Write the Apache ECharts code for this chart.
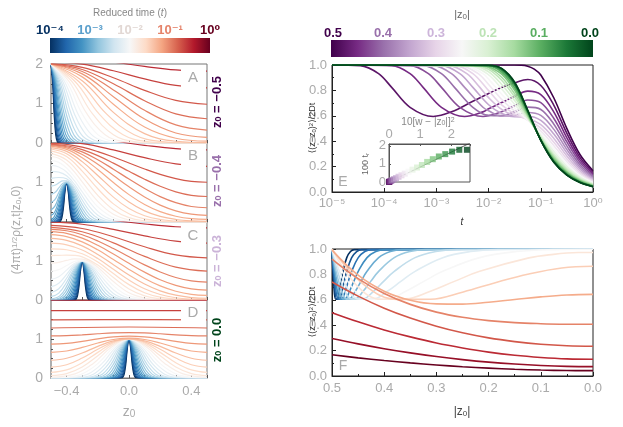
<!DOCTYPE html>
<html>
<head>
<meta charset="utf-8">
<title>Diffusion between two walls</title>
<script src="https://cdn.jsdelivr.net/npm/echarts@6/dist/echarts.min.js"></script>
<style>
html, body { margin: 0; padding: 0; background: #fff; }
#main { width: 623px; height: 427px; }
</style>
</head>
<body>
<div id="main"></div>
<script>
// reduced times of the curves in panels A-D (same order as the curves)
var panelTimes = [1e-4, 1.334e-4, 1.778e-4, 2.371e-4, 3.162e-4, 4.217e-4, 5.623e-4, 7.499e-4,
  1e-3, 1.334e-3, 1.778e-3, 2.371e-3, 3.162e-3, 4.217e-3, 5.623e-3, 7.499e-3,
  0.01, 0.01334, 0.01778, 0.02371, 0.03162, 0.04217, 0.05623, 0.07499, 0.1, 0.1334, 0.1778, 0.2371, 0.3162];
// reduced times of the curves in panel F
var reducedTimes = [1e-4, 1.778e-4, 3.162e-4, 5.623e-4, 1e-3, 1.778e-3, 3.162e-3, 5.623e-3,
  0.01, 0.01778, 0.03162, 0.05623, 0.1, 0.1778, 0.3162, 0.5623, 1];

// panel A, z0 = -0.5 : [z, (4 pi t)^1/2 rho]
var curvesA = [
  [[-0.5,2],[-0.49,1.558],[-0.48,0.736],[-0.47,0.211],[-0.46,0.037],[-0.45,0.004],[0.5,0]],
  [[-0.5,2],[-0.4884,1.558],[-0.4769,0.736],[-0.4653,0.211],[-0.4538,0.037],[-0.4422,0.004],[0.5,0]],
  [[-0.5,2],[-0.4867,1.558],[-0.4733,0.736],[-0.46,0.211],[-0.4467,0.037],[-0.4333,0.004],[0.5,0]],
  [[-0.5,2],[-0.4846,1.558],[-0.4692,0.736],[-0.4538,0.211],[-0.4384,0.037],[-0.423,0.004],[0.5,0]],
  [[-0.5,2],[-0.4822,1.558],[-0.4644,0.736],[-0.4466,0.211],[-0.4288,0.037],[-0.411,0.004],[0.5,0]],
  [[-0.5,2],[-0.4794,1.558],[-0.4589,0.736],[-0.4383,0.211],[-0.4178,0.037],[-0.3972,0.004],[0.5,0]],
  [[-0.5,2],[-0.4763,1.558],[-0.4526,0.736],[-0.4289,0.211],[-0.4052,0.037],[-0.3815,0.004],[0.5,0]],
  [[-0.5,2],[-0.4726,1.558],[-0.4452,0.736],[-0.4178,0.211],[-0.3904,0.037],[-0.363,0.004],[0.5,0]],
  [[-0.5,2],[-0.4684,1.558],[-0.4368,0.736],[-0.4052,0.211],[-0.3736,0.037],[-0.342,0.004],[0.5,0]],
  [[-0.5,2],[-0.4635,1.558],[-0.427,0.736],[-0.3905,0.211],[-0.354,0.037],[-0.3175,0.004],[0.5,0]],
  [[-0.5,2],[-0.4578,1.558],[-0.4157,0.736],[-0.3735,0.211],[-0.3314,0.037],[-0.2892,0.004],[0.5,0]],
  [[-0.5,2],[-0.4513,1.558],[-0.4026,0.736],[-0.3539,0.211],[-0.3052,0.037],[-0.2565,0.004],[0.5,0]],
  [[-0.5,2],[-0.4438,1.558],[-0.3875,0.736],[-0.3313,0.211],[-0.275,0.037],[-0.2188,0.004],[0.5,0]],
  [[-0.5,2],[-0.435,1.558],[-0.3701,0.736],[-0.3051,0.211],[-0.2402,0.037],[-0.1752,0.004],[0.5,0]],
  [[-0.5,2],[-0.425,1.558],[-0.35,0.736],[-0.275,0.211],[-0.2,0.037],[-0.125,0.004],[0.5,0]],
  [[-0.5,2],[-0.4134,1.558],[-0.3268,0.736],[-0.2402,0.211],[-0.1536,0.037],[-0.067,0.004],[0.5,0]],
  [[-0.5,2],[-0.4,1.558],[-0.3,0.736],[-0.2,0.211],[-0.1,0.037],[0,0.004],[0.5,0]],
  [[-0.5,2],[-0.3845,1.558],[-0.269,0.736],[-0.1535,0.211],[-0.038,0.037],[0.0775,0.004],[0.5,0]],
  [[-0.5,2],[-0.3667,1.558],[-0.2333,0.736],[-0.1,0.211],[0.0333,0.037],[0.1667,0.004],[0.5,0]],
  [[-0.5,2],[-0.346,1.558],[-0.192,0.736],[-0.038,0.211],[0.116,0.037],[0.27,0.004],[0.5,0]],
  [[-0.5,2],[-0.3222,1.558],[-0.1443,0.736],[0.0335,0.211],[0.2114,0.037],[0.389,0.004],[0.5,0.002]],
  [[-0.5,2],[-0.3,1.578],[-0.1,0.775],[0.1,0.237],[0.3,0.045],[0.5,0.011]],
  [[-0.5,2],[-0.3,1.674],[-0.1,0.982],[0.1,0.404],[0.3,0.12],[0.5,0.047]],
  [[-0.5,2],[-0.3,1.75],[-0.1,1.173],[0.1,0.605],[0.3,0.253],[0.5,0.143]],
  [[-0.5,2],[-0.3,1.81],[-0.1,1.344],[0.1,0.828],[0.3,0.458],[0.5,0.328]],
  [[-0.5,2.002],[-0.3,1.861],[-0.1,1.499],[0.1,1.07],[0.3,0.738],[0.5,0.614]],
  [[-0.5,2.015],[-0.3,1.914],[-0.1,1.653],[0.1,1.333],[0.3,1.078],[0.5,0.981]],
  [[-0.5,2.058],[-0.3,1.995],[-0.1,1.829],[0.1,1.623],[0.3,1.457],[0.5,1.394]],
  [[-0.5,2.169],[-0.3,2.136],[-0.1,2.048],[0.1,1.939],[0.3,1.851],[0.5,1.818]]
];

// panel B, z0 = -0.4
var curvesB = [
  [[-0.5,0],[-0.45,0.002],[-0.44,0.018],[-0.43,0.105],[-0.42,0.368],[-0.41,0.779],[-0.4,1],[-0.39,0.779],[-0.38,0.368],[-0.37,0.105],[-0.36,0.018],[-0.35,0.002],[0.5,0]],
  [[-0.5,0],[-0.4578,0.002],[-0.4462,0.018],[-0.4347,0.105],[-0.4231,0.368],[-0.4116,0.779],[-0.4,1],[-0.3884,0.779],[-0.3769,0.368],[-0.3653,0.105],[-0.3538,0.018],[-0.3422,0.002],[0.5,0]],
  [[-0.5,0],[-0.4667,0.002],[-0.4533,0.018],[-0.44,0.105],[-0.4267,0.368],[-0.4133,0.779],[-0.4,1],[-0.3867,0.779],[-0.3733,0.368],[-0.36,0.105],[-0.3467,0.018],[-0.3333,0.002],[0.5,0]],
  [[-0.5,0],[-0.477,0.002],[-0.4616,0.018],[-0.4462,0.105],[-0.4308,0.368],[-0.4154,0.779],[-0.4,1],[-0.3846,0.779],[-0.3692,0.368],[-0.3538,0.105],[-0.3384,0.018],[-0.323,0.002],[0.5,0]],
  [[-0.5,0.001],[-0.489,0.002],[-0.4712,0.018],[-0.4534,0.105],[-0.4356,0.368],[-0.4178,0.779],[-0.4,1],[-0.3822,0.779],[-0.3644,0.368],[-0.3466,0.105],[-0.3288,0.018],[-0.311,0.002],[0.5,0]],
  [[-0.5,0.005],[-0.4822,0.019],[-0.4617,0.106],[-0.4411,0.368],[-0.4206,0.779],[-0.4,1],[-0.3794,0.779],[-0.3589,0.368],[-0.3383,0.105],[-0.3178,0.018],[-0.2972,0.002],[0.5,0]],
  [[-0.5,0.023],[-0.4711,0.106],[-0.4474,0.368],[-0.4237,0.779],[-0.4,1],[-0.3763,0.779],[-0.3526,0.368],[-0.3289,0.105],[-0.3052,0.018],[-0.2815,0.002],[0.5,0]],
  [[-0.5,0.072],[-0.4822,0.115],[-0.4548,0.369],[-0.4274,0.779],[-0.4,1],[-0.3726,0.779],[-0.3452,0.368],[-0.3178,0.105],[-0.2904,0.018],[-0.263,0.002],[0.5,0]],
  [[-0.5,0.164],[-0.48,0.229],[-0.4632,0.377],[-0.4316,0.78],[-0.4,1],[-0.3684,0.779],[-0.3368,0.368],[-0.3052,0.105],[-0.2736,0.018],[-0.242,0.002],[0.5,0]],
  [[-0.5,0.306],[-0.475,0.401],[-0.45,0.64],[-0.425,0.893],[-0.4,1],[-0.3635,0.779],[-0.327,0.368],[-0.2905,0.105],[-0.254,0.018],[-0.2175,0.002],[0.5,0]],
  [[-0.5,0.49],[-0.475,0.564],[-0.45,0.746],[-0.425,0.929],[-0.4,1.004],[-0.3578,0.779],[-0.3157,0.368],[-0.2735,0.105],[-0.2314,0.018],[-0.1892,0.002],[0.5,0]],
  [[-0.5,0.697],[-0.475,0.745],[-0.45,0.862],[-0.425,0.976],[-0.4,1.015],[-0.375,0.941],[-0.35,0.769],[-0.3026,0.368],[-0.2539,0.105],[-0.2052,0.018],[-0.1565,0.002],[0.5,0]],
  [[-0.5,0.908],[-0.475,0.932],[-0.45,0.99],[-0.425,1.041],[-0.4,1.042],[-0.375,0.97],[-0.35,0.828],[-0.3,0.454],[-0.25,0.169],[-0.2,0.042],[-0.15,0.007],[-0.1,0.001],[0.5,0]],
  [[-0.5,1.106],[-0.45,1.126],[-0.4,1.093],[-0.35,0.887],[-0.3,0.558],[-0.25,0.264],[-0.2,0.093],[-0.15,0.025],[-0.1,0.005],[-0.05,0.001],[0.5,0]],
  [[-0.5,1.282],[-0.45,1.263],[-0.4,1.169],[-0.35,0.957],[-0.3,0.659],[-0.25,0.372],[-0.2,0.169],[-0.15,0.062],[-0.1,0.018],[-0.05,0.004],[0,0],[0.5,0]],
  [[-0.5,1.433],[-0.45,1.392],[-0.4,1.264],[-0.35,1.045],[-0.3,0.766],[-0.25,0.489],[-0.2,0.268],[-0.15,0.126],[-0.1,0.05],[-0.05,0.017],[0,0.005],[0.05,0.001],[0.5,0]],
  [[-0.5,1.558],[-0.45,1.509],[-0.4,1.368],[-0.35,1.149],[-0.3,0.884],[-0.25,0.617],[-0.2,0.386],[-0.1,0.107],[0,0.018],[0.1,0.002],[0.5,0]],
  [[-0.5,1.658],[-0.45,1.615],[-0.4,1.473],[-0.35,1.269],[-0.3,1.014],[-0.2,0.523],[-0.1,0.194],[0,0.051],[0.1,0.009],[0.2,0.001],[0.5,0]],
  [[-0.5,1.738],[-0.4,1.57],[-0.3,1.151],[-0.2,0.675],[-0.1,0.312],[0,0.111],[0.1,0.03],[0.2,0.006],[0.3,0.001],[0.5,0]],
  [[-0.5,1.8],[-0.4,1.656],[-0.3,1.288],[-0.2,0.841],[-0.1,0.459],[0,0.208],[0.1,0.078],[0.2,0.024],[0.3,0.006],[0.4,0.001],[0.5,0]],
  [[-0.5,1.848],[-0.4,1.729],[-0.3,1.415],[-0.2,1.011],[-0.1,0.63],[0,0.34],[0.1,0.159],[0.2,0.064],[0.3,0.022],[0.4,0.007],[0.5,0.003]],
  [[-0.5,1.885],[-0.4,1.789],[-0.3,1.529],[-0.2,1.177],[-0.1,0.814],[0,0.506],[0.1,0.282],[0.2,0.141],[0.3,0.064],[0.4,0.028],[0.5,0.018]],
  [[-0.5,1.913],[-0.4,1.837],[-0.3,1.627],[-0.2,1.328],[-0.1,0.999],[0,0.693],[0.1,0.443],[0.2,0.262],[0.3,0.146],[0.4,0.083],[0.5,0.064]],
  [[-0.5,1.934],[-0.4,1.875],[-0.3,1.708],[-0.2,1.462],[-0.1,1.176],[0,0.89],[0.1,0.634],[0.2,0.428],[0.3,0.283],[0.4,0.198],[0.5,0.17]],
  [[-0.5,1.951],[-0.4,1.905],[-0.3,1.775],[-0.2,1.577],[-0.1,1.338],[0,1.086],[0.1,0.847],[0.2,0.643],[0.3,0.489],[0.4,0.393],[0.5,0.361]],
  [[-0.5,1.966],[-0.4,1.931],[-0.3,1.832],[-0.2,1.68],[-0.1,1.49],[0,1.284],[0.1,1.082],[0.2,0.904],[0.3,0.764],[0.4,0.676],[0.5,0.646]],
  [[-0.5,1.989],[-0.4,1.964],[-0.3,1.894],[-0.2,1.783],[-0.1,1.645],[0,1.493],[0.1,1.341],[0.2,1.205],[0.3,1.098],[0.4,1.029],[0.5,1.006]],
  [[-0.5,2.042],[-0.3,1.982],[-0.1,1.824],[0.1,1.628],[0.3,1.47],[0.5,1.41]],
  [[-0.5,2.161],[-0.3,2.129],[-0.1,2.045],[0.1,1.942],[0.3,1.858],[0.5,1.826]]
];

// panel C, z0 = -0.3
var curvesC = [
  [[-0.5,0],[-0.35,0.002],[-0.34,0.018],[-0.33,0.105],[-0.32,0.368],[-0.31,0.779],[-0.3,1],[-0.29,0.779],[-0.28,0.368],[-0.27,0.105],[-0.26,0.018],[-0.25,0.002],[0.5,0]],
  [[-0.5,0],[-0.3578,0.002],[-0.3462,0.018],[-0.3347,0.105],[-0.3231,0.368],[-0.3116,0.779],[-0.3,1],[-0.2884,0.779],[-0.2769,0.368],[-0.2653,0.105],[-0.2538,0.018],[-0.2422,0.002],[0.5,0]],
  [[-0.5,0],[-0.3667,0.002],[-0.3533,0.018],[-0.34,0.105],[-0.3267,0.368],[-0.3133,0.779],[-0.3,1],[-0.2867,0.779],[-0.2733,0.368],[-0.26,0.105],[-0.2467,0.018],[-0.2333,0.002],[0.5,0]],
  [[-0.5,0],[-0.377,0.002],[-0.3616,0.018],[-0.3462,0.105],[-0.3308,0.368],[-0.3154,0.779],[-0.3,1],[-0.2846,0.779],[-0.2692,0.368],[-0.2538,0.105],[-0.2384,0.018],[-0.223,0.002],[0.5,0]],
  [[-0.5,0],[-0.389,0.002],[-0.3712,0.018],[-0.3534,0.105],[-0.3356,0.368],[-0.3178,0.779],[-0.3,1],[-0.2822,0.779],[-0.2644,0.368],[-0.2466,0.105],[-0.2288,0.018],[-0.211,0.002],[0.5,0]],
  [[-0.5,0],[-0.4028,0.002],[-0.3822,0.018],[-0.3617,0.105],[-0.3411,0.368],[-0.3206,0.779],[-0.3,1],[-0.2794,0.779],[-0.2589,0.368],[-0.2383,0.105],[-0.2178,0.018],[-0.1972,0.002],[0.5,0]],
  [[-0.5,0],[-0.4185,0.002],[-0.3948,0.018],[-0.3711,0.105],[-0.3474,0.368],[-0.3237,0.779],[-0.3,1],[-0.2763,0.779],[-0.2526,0.368],[-0.2289,0.105],[-0.2052,0.018],[-0.1815,0.002],[0.5,0]],
  [[-0.5,0],[-0.437,0.002],[-0.4096,0.018],[-0.3822,0.105],[-0.3548,0.368],[-0.3274,0.779],[-0.3,1],[-0.2726,0.779],[-0.2452,0.368],[-0.2178,0.105],[-0.1904,0.018],[-0.163,0.002],[0.5,0]],
  [[-0.5,0],[-0.458,0.002],[-0.4264,0.018],[-0.3948,0.105],[-0.3632,0.368],[-0.3316,0.779],[-0.3,1],[-0.2684,0.779],[-0.2368,0.368],[-0.2052,0.105],[-0.1736,0.018],[-0.142,0.002],[0.5,0]],
  [[-0.5,0.001],[-0.4825,0.002],[-0.446,0.018],[-0.4095,0.105],[-0.373,0.368],[-0.3365,0.779],[-0.3,1],[-0.2635,0.779],[-0.227,0.368],[-0.1905,0.105],[-0.154,0.018],[-0.1175,0.002],[0.5,0]],
  [[-0.5,0.007],[-0.4686,0.018],[-0.4265,0.105],[-0.3843,0.368],[-0.3422,0.779],[-0.3,1],[-0.2578,0.779],[-0.2157,0.368],[-0.1735,0.105],[-0.1314,0.018],[-0.0892,0.002],[0.5,0]],
  [[-0.5,0.03],[-0.4435,0.106],[-0.3974,0.368],[-0.3487,0.779],[-0.3,1],[-0.2513,0.779],[-0.2026,0.368],[-0.1539,0.105],[-0.1052,0.018],[-0.0565,0.002],[0.5,0]],
  [[-0.5,0.085],[-0.45,0.176],[-0.4,0.455],[-0.35,0.821],[-0.325,0.952],[-0.3,1],[-0.275,0.952],[-0.25,0.821],[-0.2,0.454],[-0.15,0.169],[-0.1,0.042],[-0.05,0.007],[0,0.001],[0.5,0]],
  [[-0.5,0.187],[-0.45,0.288],[-0.4,0.558],[-0.35,0.863],[-0.3,1],[-0.25,0.862],[-0.2,0.553],[-0.15,0.263],[-0.1,0.093],[-0.05,0.025],[0,0.005],[0.05,0.001],[0.5,0]],
  [[-0.5,0.338],[-0.45,0.43],[-0.4,0.659],[-0.35,0.899],[-0.3,1],[-0.25,0.895],[-0.2,0.641],[-0.15,0.368],[-0.1,0.169],[-0.05,0.062],[0,0.018],[0.05,0.004],[0.1,0],[0.5,0]],
  [[-0.5,0.527],[-0.45,0.597],[-0.4,0.766],[-0.35,0.937],[-0.3,1.005],[-0.25,0.921],[-0.2,0.717],[-0.15,0.472],[-0.1,0.264],[-0.05,0.125],[0,0.05],[0.05,0.017],[0.1,0.005],[0.15,0.001],[0.5,0]],
  [[-0.5,0.736],[-0.45,0.78],[-0.4,0.884],[-0.35,0.986],[-0.3,1.018],[-0.25,0.945],[-0.2,0.781],[-0.15,0.57],[-0.1,0.368],[-0.05,0.21],[0,0.105],[0.1,0.018],[0.2,0.002],[0.3,0],[0.5,0]],
  [[-0.5,0.945],[-0.45,0.966],[-0.4,1.014],[-0.35,1.055],[-0.3,1.05],[-0.25,0.977],[-0.2,0.838],[-0.1,0.474],[0,0.185],[0.1,0.05],[0.2,0.009],[0.3,0.001],[0.5,0]],
  [[-0.5,1.14],[-0.45,1.144],[-0.4,1.151],[-0.35,1.144],[-0.3,1.105],[-0.2,0.899],[-0.1,0.576],[0,0.283],[0.1,0.105],[0.2,0.03],[0.3,0.006],[0.4,0.001],[0.5,0]],
  [[-0.5,1.312],[-0.4,1.288],[-0.3,1.185],[-0.2,0.972],[-0.1,0.679],[0,0.394],[0.1,0.186],[0.2,0.072],[0.3,0.023],[0.4,0.006],[0.5,0.002]],
  [[-0.5,1.458],[-0.4,1.415],[-0.3,1.282],[-0.2,1.063],[-0.1,0.787],[0,0.512],[0.1,0.288],[0.2,0.141],[0.3,0.058],[0.4,0.023],[0.5,0.013]],
  [[-0.5,1.578],[-0.4,1.529],[-0.3,1.388],[-0.2,1.169],[-0.1,0.907],[0,0.642],[0.1,0.41],[0.2,0.235],[0.3,0.124],[0.4,0.063],[0.5,0.045]],
  [[-0.5,1.674],[-0.4,1.627],[-0.3,1.491],[-0.2,1.286],[-0.1,1.039],[0,0.784],[0.1,0.551],[0.2,0.361],[0.3,0.225],[0.4,0.146],[0.5,0.12]],
  [[-0.5,1.751],[-0.4,1.708],[-0.3,1.587],[-0.2,1.403],[-0.1,1.178],[0,0.94],[0.1,0.714],[0.2,0.52],[0.3,0.374],[0.4,0.284],[0.5,0.253]],
  [[-0.5,1.81],[-0.4,1.775],[-0.3,1.672],[-0.2,1.514],[-0.1,1.319],[0,1.108],[0.1,0.901],[0.2,0.719],[0.3,0.578],[0.4,0.489],[0.5,0.458]],
  [[-0.5,1.861],[-0.3,1.751],[-0.1,1.465],[0.1,1.118],[0.3,0.842],[0.5,0.738]],
  [[-0.5,1.914],[-0.3,1.834],[-0.1,1.623],[0.1,1.365],[0.3,1.157],[0.5,1.078]],
  [[-0.5,1.995],[-0.3,1.943],[-0.1,1.809],[0.1,1.643],[0.3,1.509],[0.5,1.457]],
  [[-0.5,2.136],[-0.3,2.109],[-0.1,2.037],[0.1,1.949],[0.3,1.878],[0.5,1.851]]
];

// panel D, z0 = 0
var curvesD = [
  [[-0.5,0],[-0.05,0.002],[-0.04,0.018],[-0.03,0.105],[-0.02,0.368],[-0.01,0.779],[0,1],[0.01,0.779],[0.02,0.368],[0.03,0.105],[0.04,0.018],[0.05,0.002],[0.5,0]],
  [[-0.5,0],[-0.0578,0.002],[-0.0462,0.018],[-0.0347,0.105],[-0.0231,0.368],[-0.0116,0.779],[0,1],[0.0116,0.779],[0.0231,0.368],[0.0347,0.105],[0.0462,0.018],[0.0578,0.002],[0.5,0]],
  [[-0.5,0],[-0.0667,0.002],[-0.0533,0.018],[-0.04,0.105],[-0.0267,0.368],[-0.0133,0.779],[0,1],[0.0133,0.779],[0.0267,0.368],[0.04,0.105],[0.0533,0.018],[0.0667,0.002],[0.5,0]],
  [[-0.5,0],[-0.077,0.002],[-0.0616,0.018],[-0.0462,0.105],[-0.0308,0.368],[-0.0154,0.779],[0,1],[0.0154,0.779],[0.0308,0.368],[0.0462,0.105],[0.0616,0.018],[0.077,0.002],[0.5,0]],
  [[-0.5,0],[-0.089,0.002],[-0.0712,0.018],[-0.0534,0.105],[-0.0356,0.368],[-0.0178,0.779],[0,1],[0.0178,0.779],[0.0356,0.368],[0.0534,0.105],[0.0712,0.018],[0.089,0.002],[0.5,0]],
  [[-0.5,0],[-0.1028,0.002],[-0.0822,0.018],[-0.0617,0.105],[-0.0411,0.368],[-0.0206,0.779],[0,1],[0.0206,0.779],[0.0411,0.368],[0.0617,0.105],[0.0822,0.018],[0.1028,0.002],[0.5,0]],
  [[-0.5,0],[-0.1185,0.002],[-0.0948,0.018],[-0.0711,0.105],[-0.0474,0.368],[-0.0237,0.779],[0,1],[0.0237,0.779],[0.0474,0.368],[0.0711,0.105],[0.0948,0.018],[0.1185,0.002],[0.5,0]],
  [[-0.5,0],[-0.137,0.002],[-0.1096,0.018],[-0.0822,0.105],[-0.0548,0.368],[-0.0274,0.779],[0,1],[0.0274,0.779],[0.0548,0.368],[0.0822,0.105],[0.1096,0.018],[0.137,0.002],[0.5,0]],
  [[-0.5,0],[-0.158,0.002],[-0.1264,0.018],[-0.0948,0.105],[-0.0632,0.368],[-0.0316,0.779],[0,1],[0.0316,0.779],[0.0632,0.368],[0.0948,0.105],[0.1264,0.018],[0.158,0.002],[0.5,0]],
  [[-0.5,0],[-0.1825,0.002],[-0.146,0.018],[-0.1095,0.105],[-0.073,0.368],[-0.0365,0.779],[0,1],[0.0365,0.779],[0.073,0.368],[0.1095,0.105],[0.146,0.018],[0.1825,0.002],[0.5,0]],
  [[-0.5,0],[-0.2108,0.002],[-0.1686,0.018],[-0.1265,0.105],[-0.0843,0.368],[-0.0422,0.779],[0,1],[0.0422,0.779],[0.0843,0.368],[0.1265,0.105],[0.1686,0.018],[0.2108,0.002],[0.5,0]],
  [[-0.5,0],[-0.2435,0.002],[-0.1948,0.018],[-0.1461,0.105],[-0.0974,0.368],[-0.0487,0.779],[0,1],[0.0487,0.779],[0.0974,0.368],[0.1461,0.105],[0.1948,0.018],[0.2435,0.002],[0.5,0]],
  [[-0.5,0],[-0.2813,0.002],[-0.225,0.018],[-0.1688,0.105],[-0.1125,0.368],[-0.0563,0.779],[0,1],[0.0563,0.779],[0.1125,0.368],[0.1688,0.105],[0.225,0.018],[0.2813,0.002],[0.5,0]],
  [[-0.5,0],[-0.3248,0.002],[-0.2598,0.018],[-0.1949,0.105],[-0.1299,0.368],[-0.065,0.779],[0,1],[0.065,0.779],[0.1299,0.368],[0.1949,0.105],[0.2598,0.018],[0.3248,0.002],[0.5,0]],
  [[-0.5,0],[-0.375,0.002],[-0.3,0.018],[-0.225,0.105],[-0.15,0.368],[-0.075,0.779],[0,1],[0.075,0.779],[0.15,0.368],[0.225,0.105],[0.3,0.018],[0.375,0.002],[0.5,0]],
  [[-0.5,0.001],[-0.433,0.002],[-0.3464,0.018],[-0.2598,0.105],[-0.1732,0.368],[-0.0866,0.779],[0,1],[0.0866,0.779],[0.1732,0.368],[0.2598,0.105],[0.3464,0.018],[0.433,0.002],[0.5,0.001]],
  [[-0.5,0.004],[-0.4,0.018],[-0.3,0.105],[-0.2,0.368],[-0.1,0.779],[0,1],[0.1,0.779],[0.2,0.368],[0.3,0.105],[0.4,0.018],[0.5,0.004]],
  [[-0.5,0.019],[-0.3465,0.106],[-0.231,0.368],[-0.1155,0.779],[0,1],[0.1155,0.779],[0.231,0.368],[0.3465,0.106],[0.5,0.019]],
  [[-0.5,0.06],[-0.4,0.112],[-0.3,0.283],[-0.2,0.57],[-0.1,0.869],[0,1],[0.1,0.869],[0.2,0.57],[0.3,0.283],[0.4,0.112],[0.5,0.06]],
  [[-0.5,0.144],[-0.4,0.208],[-0.3,0.393],[-0.2,0.657],[-0.1,0.9],[0,1],[0.1,0.9],[0.2,0.657],[0.3,0.393],[0.4,0.208],[0.5,0.144]],
  [[-0.5,0.277],[-0.4,0.34],[-0.3,0.512],[-0.2,0.735],[-0.1,0.926],[0,1.001],[0.1,0.926],[0.2,0.735],[0.3,0.512],[0.4,0.34],[0.5,0.277]],
  [[-0.5,0.455],[-0.4,0.506],[-0.3,0.641],[-0.2,0.811],[-0.1,0.951],[0,1.005],[0.1,0.951],[0.2,0.811],[0.3,0.641],[0.4,0.506],[0.5,0.455]],
  [[-0.5,0.658],[-0.4,0.693],[-0.3,0.784],[-0.2,0.897],[-0.1,0.988],[0,1.023],[0.1,0.988],[0.2,0.897],[0.3,0.784],[0.4,0.693],[0.5,0.658]],
  [[-0.5,0.87],[-0.4,0.89],[-0.3,0.94],[-0.2,1.002],[-0.1,1.052],[0,1.072],[0.1,1.052],[0.2,1.002],[0.3,0.94],[0.4,0.89],[0.5,0.87]],
  [[-0.5,1.078],[-0.4,1.086],[-0.3,1.108],[-0.2,1.134],[-0.1,1.156],[0,1.164],[0.1,1.156],[0.2,1.134],[0.3,1.108],[0.4,1.086],[0.5,1.078]],
  [[-0.5,1.282],[0,1.308],[0.5,1.282]],
  [[-0.5,1.492],[0,1.498],[0.5,1.492]],
  [[-0.5,1.726],[0.5,1.726]],
  [[-0.5,1.993],[0.5,1.993]]
];

// panel E: one curve per |z0| : [t, <(z-z0)^2>/2Dt]
var absZ0E = [0.5, 0.475, 0.45, 0.425, 0.4, 0.375, 0.35, 0.325, 0.3, 0.275, 0.25,
  0.225, 0.2, 0.175, 0.15, 0.125, 0.1, 0.075, 0.05, 0.025, 0];
var curvesE = [
  [[1e-5,1],[0.01,1],[0.0316,1],[0.0422,0.999],[0.0562,0.991],[0.075,0.968],[0.1,0.921],[0.178,0.74],[0.316,0.499],[0.562,0.295],[1,0.167]],
  [[1e-5,1],[3.47e-5,0.995],[7.8e-5,0.932],[1.39e-4,0.824],[3.13e-4,0.667],[8.7e-4,0.595],[1.95e-3,0.631],[5e-3,0.714],[0.01,0.776],[0.0178,0.823],[0.0316,0.86],[0.0562,0.886],[0.1,0.839],[0.178,0.682],[0.316,0.462],[0.562,0.273],[1,0.154]],
  [[1e-5,1],[1.39e-4,0.995],[3.13e-4,0.932],[5.56e-4,0.824],[1.25e-3,0.667],[3.47e-3,0.595],[7.8e-3,0.631],[0.01,0.655],[0.0178,0.704],[0.0316,0.754],[0.0562,0.794],[0.1,0.767],[0.178,0.629],[0.316,0.427],[0.562,0.253],[1,0.143]],
  [[1e-5,1],[3.13e-4,0.995],[7.03e-4,0.932],[1.25e-3,0.824],[2.81e-3,0.667],[7.8e-3,0.595],[0.01,0.601],[0.0178,0.632],[0.0316,0.68],[0.0562,0.725],[0.1,0.704],[0.178,0.579],[0.316,0.394],[0.562,0.234],[1,0.132]],
  [[1e-5,1],[5.6e-4,0.995],[1.25e-3,0.932],[2.22e-3,0.824],[5e-3,0.667],[0.01,0.603],[0.0178,0.601],[0.0316,0.631],[0.0562,0.668],[0.1,0.65],[0.178,0.534],[0.316,0.363],[0.562,0.215],[1,0.122]],
  [[1e-5,1],[8.7e-4,0.995],[1.95e-3,0.932],[3.47e-3,0.824],[7.8e-3,0.667],[0.01,0.639],[0.0178,0.598],[0.0316,0.603],[0.0562,0.626],[0.1,0.603],[0.178,0.493],[0.316,0.334],[0.562,0.198],[1,0.112]],
  [[1e-5,1],[1.25e-3,0.995],[2.81e-3,0.932],[5e-3,0.824],[0.01,0.687],[0.0178,0.618],[0.0316,0.593],[0.0562,0.597],[0.1,0.564],[0.178,0.456],[0.316,0.308],[0.562,0.182],[1,0.103]],
  [[1e-5,1],[1.7e-3,0.995],[3.83e-3,0.932],[6.8e-3,0.824],[0.01,0.743],[0.0178,0.65],[0.0316,0.6],[0.0562,0.579],[0.1,0.53],[0.178,0.422],[0.316,0.283],[0.562,0.167],[1,0.094]],
  [[1e-5,1],[2.22e-3,0.995],[5e-3,0.932],[0.01,0.798],[0.0178,0.686],[0.0316,0.615],[0.0562,0.568],[0.1,0.503],[0.178,0.392],[0.316,0.26],[0.562,0.153],[1,0.087]],
  [[1e-5,1],[2.81e-3,0.995],[6.33e-3,0.932],[0.01,0.847],[0.0178,0.729],[0.0316,0.637],[0.0562,0.565],[0.1,0.48],[0.178,0.365],[0.316,0.239],[0.562,0.141],[1,0.079]],
  [[1e-5,1],[3.47e-3,0.995],[7.8e-3,0.932],[0.01,0.889],[0.0178,0.77],[0.0316,0.661],[0.0562,0.566],[0.1,0.462],[0.178,0.34],[0.316,0.221],[0.562,0.129],[1,0.073]],
  [[1e-5,1],[4.2e-3,0.995],[0.01,0.923],[0.0178,0.812],[0.0316,0.69],[0.0562,0.578],[0.1,0.447],[0.178,0.319],[0.316,0.203],[0.562,0.119],[1,0.067]],
  [[1e-5,1],[5e-3,0.995],[0.01,0.947],[0.0178,0.846],[0.0316,0.72],[0.0562,0.581],[0.1,0.436],[0.178,0.3],[0.316,0.188],[0.562,0.109],[1,0.062]],
  [[1e-5,1],[5.9e-3,0.995],[0.01,0.966],[0.0178,0.88],[0.0316,0.748],[0.0562,0.594],[0.1,0.427],[0.178,0.284],[0.316,0.175],[0.562,0.101],[1,0.057]],
  [[1e-5,1],[6.8e-3,0.995],[0.01,0.979],[0.0178,0.904],[0.0316,0.774],[0.0562,0.602],[0.1,0.42],[0.178,0.271],[0.316,0.163],[0.562,0.094],[1,0.053]],
  [[1e-5,1],[7.8e-3,0.995],[0.01,0.987],[0.0178,0.928],[0.0316,0.8],[0.0562,0.612],[0.1,0.415],[0.178,0.259],[0.316,0.154],[0.562,0.088],[1,0.049]],
  [[1e-5,1],[1e-3,1],[0.01,0.992],[0.0178,0.944],[0.0316,0.82],[0.0562,0.623],[0.1,0.412],[0.178,0.25],[0.316,0.146],[0.562,0.083],[1,0.047]],
  [[1e-5,1],[1e-3,1],[0.01,0.995],[0.0178,0.958],[0.0316,0.839],[0.0562,0.631],[0.1,0.409],[0.178,0.243],[0.316,0.14],[0.562,0.079],[1,0.044]],
  [[1e-5,1],[1e-3,1],[0.01,0.997],[0.0178,0.967],[0.0316,0.851],[0.0562,0.638],[0.1,0.408],[0.178,0.238],[0.316,0.135],[0.562,0.076],[1,0.043]],
  [[1e-5,1],[1e-3,1],[0.01,0.998],[0.0178,0.972],[0.0316,0.86],[0.0562,0.642],[0.1,0.407],[0.178,0.235],[0.316,0.133],[0.562,0.075],[1,0.042]],
  [[1e-5,1],[1e-3,1],[0.01,0.998],[0.0178,0.973],[0.0316,0.864],[0.0562,0.643],[0.1,0.407],[0.178,0.234],[0.316,0.132],[0.562,0.074],[1,0.042]]
];

// inset of E: 10[w - |z0|]^2 against 100 t_r (same order as absZ0E)
var insetX = [0, 0.00625, 0.025, 0.05625, 0.1, 0.15625, 0.225, 0.30625, 0.4, 0.50625, 0.625,
  0.75625, 0.9, 1.05625, 1.225, 1.40625, 1.6, 1.80625, 2.025, 2.25625, 2.5];
var insetY = [0, 0.01, 0.03, 0.06, 0.1, 0.15, 0.21, 0.29, 0.37, 0.46, 0.57,
  0.68, 0.8, 0.94, 1.11, 1.26, 1.41, 1.54, 1.68, 1.78, 1.78];
var insetFit = [[0, 0], [2.6, 2.15]];

// panel F: one curve per reduced time : [|z0|, <(z-z0)^2>/2Dt]
var curvesF = [
  [[0.5,1],[0.4965,0.714],[0.4929,0.604],[0.4894,0.607],[0.4859,0.667],[0.4823,0.747],[0.4788,0.824],[0.4717,0.932],[0.4646,0.98],[0.4576,0.995],[0,1]],
  [[0.5,1],[0.4953,0.714],[0.4906,0.604],[0.4859,0.607],[0.4811,0.667],[0.4764,0.747],[0.4717,0.824],[0.4623,0.932],[0.4528,0.98],[0.4434,0.995],[0,1]],
  [[0.5,1],[0.4937,0.714],[0.4874,0.604],[0.4811,0.607],[0.4748,0.667],[0.4686,0.747],[0.4623,0.824],[0.4497,0.932],[0.4371,0.98],[0.4245,0.995],[0,1]],
  [[0.5,1],[0.4916,0.714],[0.4832,0.604],[0.4748,0.607],[0.4665,0.667],[0.4581,0.747],[0.4497,0.824],[0.4329,0.932],[0.4161,0.98],[0.3994,0.995],[0,1]],
  [[0.5,1],[0.4888,0.714],[0.4776,0.604],[0.4665,0.607],[0.4553,0.667],[0.4441,0.747],[0.4329,0.824],[0.4106,0.932],[0.3882,0.98],[0.3658,0.995],[0,1]],
  [[0.5,1],[0.4851,0.714],[0.4702,0.604],[0.4553,0.607],[0.4404,0.667],[0.4255,0.747],[0.4106,0.824],[0.3807,0.932],[0.3509,0.98],[0.3211,0.995],[0,1]],
  [[0.5,1],[0.4801,0.714],[0.4602,0.604],[0.4404,0.607],[0.4205,0.667],[0.4006,0.747],[0.3807,0.824],[0.3409,0.932],[0.3012,0.98],[0.2614,0.995],[0,1]],
  [[0.5,1],[0.4735,0.714],[0.4469,0.604],[0.4204,0.607],[0.3939,0.667],[0.3674,0.747],[0.3408,0.824],[0.2878,0.932],[0.2347,0.98],[0.1817,0.995],[0,1]],
  [[0.5,1],[0.4646,0.714],[0.4293,0.604],[0.3939,0.607],[0.3586,0.667],[0.3232,0.747],[0.2879,0.824],[0.2172,0.932],[0.1465,0.98],[0.0757,0.995],[0,0.998]],
  [[0.5,1],[0.4529,0.714],[0.4057,0.604],[0.3586,0.607],[0.3114,0.667],[0.2643,0.747],[0.2171,0.824],[0.1228,0.93],[0.0757,0.958],[0.0285,0.972],[0,0.973]],
  [[0.5,0.999],[0.4371,0.714],[0.3743,0.603],[0.3114,0.604],[0.2485,0.662],[0.1856,0.737],[0.1228,0.803],[0.0599,0.85],[0,0.864]],
  [[0.5,0.991],[0.45,0.794],[0.4,0.668],[0.35,0.597],[0.3,0.568],[0.25,0.566],[0.2,0.581],[0.15,0.602],[0.1,0.623],[0.05,0.638],[0,0.643]],
  [[0.5,0.921],[0.45,0.767],[0.4,0.65],[0.35,0.564],[0.3,0.503],[0.25,0.462],[0.2,0.436],[0.15,0.42],[0.1,0.412],[0.05,0.408],[0,0.407]],
  [[0.5,0.74],[0.45,0.629],[0.4,0.534],[0.35,0.456],[0.3,0.392],[0.25,0.34],[0.2,0.3],[0.15,0.271],[0.1,0.25],[0.05,0.238],[0,0.234]],
  [[0.5,0.499],[0.45,0.427],[0.4,0.363],[0.35,0.308],[0.3,0.26],[0.25,0.221],[0.2,0.188],[0.15,0.163],[0.1,0.146],[0.05,0.135],[0,0.132]],
  [[0.5,0.295],[0.45,0.253],[0.4,0.215],[0.35,0.182],[0.3,0.153],[0.25,0.129],[0.2,0.109],[0.15,0.094],[0.1,0.083],[0.05,0.076],[0,0.074]],
  [[0.5,0.167],[0.45,0.143],[0.4,0.122],[0.35,0.103],[0.3,0.087],[0.25,0.073],[0.2,0.062],[0.15,0.053],[0.1,0.047],[0.05,0.043],[0,0.042]]
];

// colour maps
var RDBU = ['#053061','#2166ac','#4393c3','#92c5de','#d1e5f0','#f7f7f7','#fddbc7','#f4a582','#d6604d','#b2182b','#67001f'];
var PRGN = ['#40004b','#762a83','#9970ab','#c2a5cf','#e7d4e8','#f7f7f7','#d9f0d3','#a6dba0','#5aae61','#1b7837','#00441b'];
var FONT = "'Liberation Sans', 'DejaVu Sans', sans-serif";

function hexRgb(h) {
    return [parseInt(h.substr(1, 2), 16), parseInt(h.substr(3, 2), 16), parseInt(h.substr(5, 2), 16)];
}
function cmap(stops, p) {
    p = Math.max(0, Math.min(1, p));
    var f = p * (stops.length - 1);
    var i = Math.min(stops.length - 2, Math.floor(f));
    var r = f - i, a = hexRgb(stops[i]), b = hexRgb(stops[i + 1]);
    return 'rgb(' + [0, 1, 2].map(function (j) { return Math.round(a[j] + (b[j] - a[j]) * r); }).join(',') + ')';
}
function timeColor(t) { return cmap(RDBU, (Math.log10(t) + 4) / 4); }
function z0Color(absZ0) { return cmap(PRGN, 1 - absZ0 / 0.5); }
function gradient(stops) {
    return new echarts.graphic.LinearGradient(0, 0, 1, 0, stops.map(function (c, i) {
        return { offset: i / (stops.length - 1), color: c };
    }));
}

var SUP = { '-': '\u207B', '0': '\u2070', '1': '\u00B9', '2': '\u00B2', '3': '\u00B3', '4': '\u2074', '5': '\u2075' };
function pow10(e) { return '10' + String(e).split('').map(function (c) { return SUP[c]; }).join(''); }

// text drawn as graphic, with {sub|} {sup|} {it|} rich pieces
function label(x, y, text, o) {
    o = o || {};
    var size = o.size || 13, fill = o.fill || '#aaa', weight = o.weight || 'normal';
    var small = Math.round(size * 0.7);
    return {
        type: 'text', x: x, y: y, z: 60, rotation: o.rot || 0, silent: true,
        style: {
            text: text, fill: fill, fontSize: size, fontWeight: weight, fontFamily: FONT,
            fontStyle: o.italic ? 'italic' : 'normal',
            align: 'center', verticalAlign: 'middle',
            rich: {
                sub: { fontSize: small, fill: fill, fontWeight: weight, fontFamily: FONT, verticalAlign: 'bottom' },
                sup: { fontSize: small, fill: fill, fontWeight: weight, fontFamily: FONT, verticalAlign: 'top' },
                it: { fontSize: size, fill: fill, fontWeight: weight, fontFamily: FONT, fontStyle: 'italic' }
            }
        }
    };
}
function whiteBox(x, y, w, h) {
    return { type: 'rect', z: 55, silent: true, shape: { x: x, y: y, width: w, height: h }, style: { fill: '#fff' } };
}

var myChart = echarts.init(document.getElementById('main'), null, { renderer: 'canvas' });

var grids = [], xAxes = [], yAxes = [], series = [];

// left column: panels A-D
var leftTops = [64, 143, 222, 300], leftHeights = [79, 79, 78, 78];
for (var g = 0; g < 4; g++) {
    grids.push({ left: 51, top: leftTops[g], width: 156, height: leftHeights[g], show: true, borderColor: '#777', borderWidth: 1 });
    xAxes.push({
        gridIndex: g, type: 'value', min: -0.5, max: 0.5, interval: 0.1,
        axisLine: { onZero: false, lineStyle: { color: '#777' } },
        axisTick: { inside: true, length: 3, lineStyle: { color: '#555' } },
        splitLine: { show: false },
        axisLabel: {
            show: g === 3, margin: 7, color: '#aaa', fontSize: 13, fontFamily: FONT,
            formatter: function (v) {
                if (Math.abs(v) < 1e-6) return '0.0';
                if (Math.abs(Math.abs(v) - 0.4) < 1e-6) return (v < 0 ? '\u2212' : '') + '0.4';
                return '';
            }
        }
    });
    yAxes.push({
        gridIndex: g, type: 'value', min: 0, max: 2, interval: 1,
        axisLine: { onZero: false, lineStyle: { color: '#aaa', width: 1.5 } },
        axisTick: { inside: true, length: 3, lineStyle: { color: '#555' } },
        minorTick: { show: true, splitNumber: 4, length: 2, lineStyle: { color: '#555' } },
        splitLine: { show: false },
        axisLabel: {
            margin: 8, fontSize: 14, color: '#aaa', fontFamily: FONT,
            formatter: (g === 0 ? function (v) { return String(v); } : function (v) { return v === 2 ? '' : String(v); })
        }
    });
}
[curvesA, curvesB, curvesC, curvesD].forEach(function (panel, g) {
    panel.forEach(function (pts, k) {
        series.push({
            type: 'line', xAxisIndex: g, yAxisIndex: g, data: pts, smooth: 0.4,
            symbol: 'none', clip: true, silent: true,
            lineStyle: { width: 1.2, color: timeColor(panelTimes[k]) }
        });
    });
});

// panel E
grids.push({ left: 332, top: 65, width: 261, height: 127, show: true, borderColor: '#222', borderWidth: 1 });
xAxes.push({
    gridIndex: 4, type: 'log', logBase: 10, min: 1e-5, max: 1,
    axisLine: { onZero: false, lineStyle: { color: '#222' } },
    axisTick: { inside: true, length: 4, lineStyle: { color: '#222' } },
    splitLine: { show: false },
    axisLabel: { color: '#aaa', fontSize: 13, fontFamily: FONT, margin: 5, formatter: function (v) { return pow10(Math.round(Math.log10(v))); } }
});
yAxes.push({
    gridIndex: 4, type: 'value', min: 0, max: 1, interval: 0.2,
    axisLine: { onZero: false, lineStyle: { color: '#222' } },
    axisTick: { inside: true, length: 4, lineStyle: { color: '#222' } },
    minorTick: { show: true, splitNumber: 2, length: 2, lineStyle: { color: '#222' } },
    splitLine: { show: false },
    axisLabel: { color: '#aaa', fontSize: 13, fontFamily: FONT, margin: 5, formatter: function (v) { return v.toFixed(1); } }
});
curvesE.forEach(function (pts, i) {
    series.push({
        type: 'line', xAxisIndex: 4, yAxisIndex: 4, data: pts, smooth: 0.35,
        symbol: 'none', clip: true, silent: true,
        lineStyle: { width: 1.6, color: z0Color(absZ0E[i]) }
    });
});

// inset of E
grids.push({ left: 389, top: 144, width: 81, height: 38, show: true, backgroundColor: '#fff', borderColor: '#555', borderWidth: 1 });
xAxes.push({
    gridIndex: 5, type: 'value', position: 'top', min: 0, max: 2.6, interval: 1,
    axisLine: { onZero: false, lineStyle: { color: '#555' } },
    axisTick: { inside: true, length: 2, lineStyle: { color: '#555' } },
    splitLine: { show: false },
    axisLabel: { color: '#aaa', fontSize: 13, fontFamily: FONT, margin: 3, formatter: function (v) { return Math.abs(v - Math.round(v)) < 1e-6 ? String(Math.round(v)) : ''; } }
});
yAxes.push({
    gridIndex: 5, type: 'value', min: 0, max: 2.1, interval: 1,
    axisLine: { onZero: false, lineStyle: { color: '#555' } },
    axisTick: { inside: true, length: 2, lineStyle: { color: '#555' } },
    splitLine: { show: false },
    axisLabel: { color: '#aaa', fontSize: 13, fontFamily: FONT, margin: 3, formatter: function (v) { return Math.abs(v - Math.round(v)) < 1e-6 ? String(Math.round(v)) : ''; } }
});
series.push({
    type: 'line', xAxisIndex: 5, yAxisIndex: 5, data: insetFit, symbol: 'none', clip: true, silent: true,
    lineStyle: { width: 0.8, color: '#333' }
});
series.push({
    type: 'scatter', xAxisIndex: 5, yAxisIndex: 5, symbol: 'rect', symbolSize: 6, silent: true, z: 5,
    data: insetX.map(function (x, i) {
        return { value: [x, insetY[i]], itemStyle: { color: z0Color(absZ0E[i]) } };
    })
});

// panel F
grids.push({ left: 332, top: 249, width: 261, height: 127, show: true, borderColor: '#222', borderWidth: 1 });
xAxes.push({
    gridIndex: 6, type: 'value', min: 0, max: 0.5, interval: 0.1, inverse: true,
    axisLine: { onZero: false, lineStyle: { color: '#222' } },
    axisTick: { inside: true, length: 4, lineStyle: { color: '#222' } },
    minorTick: { show: true, splitNumber: 2, length: 2, lineStyle: { color: '#222' } },
    splitLine: { show: false },
    axisLabel: { color: '#aaa', fontSize: 13, fontFamily: FONT, margin: 6, formatter: function (v) { return v.toFixed(1); } }
});
yAxes.push({
    gridIndex: 6, type: 'value', min: 0, max: 1, interval: 0.2, position: 'left',
    axisLine: { onZero: false, lineStyle: { color: '#222' } },
    axisTick: { inside: true, length: 4, lineStyle: { color: '#222' } },
    minorTick: { show: true, splitNumber: 2, length: 2, lineStyle: { color: '#222' } },
    splitLine: { show: false },
    axisLabel: { color: '#aaa', fontSize: 13, fontFamily: FONT, margin: 5, formatter: function (v) { return v.toFixed(1); } }
});
curvesF.forEach(function (pts, k) {
    series.push({
        type: 'line', xAxisIndex: 6, yAxisIndex: 6, data: pts, smooth: 0.4,
        symbol: 'none', clip: true, silent: true,
        lineStyle: { width: 1.6, color: timeColor(reducedTimes[k]) }
    });
});

// colour bars, titles and panel letters
var graphics = [
    { type: 'rect', silent: true, shape: { x: 50, y: 38, width: 160, height: 15 }, style: { fill: gradient(RDBU) } },
    { type: 'rect', silent: true, shape: { x: 331, y: 40, width: 262, height: 17 }, style: { fill: gradient(PRGN) } },
    label(130, 13, 'Reduced time ({it|t})', { size: 10, fill: '#888' }),
    label(462, 15, '|z{sub|0}|', { size: 11, fill: '#666' }),
    whiteBox(181, 65, 25, 25), whiteBox(181, 144, 25, 24), whiteBox(181, 223, 25, 24), whiteBox(181, 301, 25, 21),
    label(193, 78, 'A', { size: 15 }), label(193, 156, 'B', { size: 15 }),
    label(193, 236, 'C', { size: 15 }), label(193, 313, 'D', { size: 15 }),
    label(217, 102, 'z{sub|0} = \u22120.5', { size: 13, weight: 'bold', fill: '#40004b', rot: Math.PI / 2 }),
    label(217, 181, 'z{sub|0} = \u22120.4', { size: 13, weight: 'bold', fill: '#9970ab', rot: Math.PI / 2 }),
    label(217, 261, 'z{sub|0} = \u22120.3', { size: 13, weight: 'bold', fill: '#cbb3d8', rot: Math.PI / 2 }),
    label(217, 340, 'z{sub|0} = 0.0', { size: 13, weight: 'bold', fill: '#00441b', rot: Math.PI / 2 }),
    label(17, 230, '(4\u03C0t){sup|1/2}\u03C1(z,t|z{sub|0},0)', { size: 12, fill: '#aaa', rot: Math.PI / 2 }),
    label(129, 412, 'z{sub|0}', { size: 14, fill: '#aaa' }),
    label(313, 128, '\u27E8(z\u2212z{sub|0}){sup|2}\u27E9/2Dt', { size: 9, fill: '#333', rot: Math.PI / 2 }),
    label(313, 312, '\u27E8(z\u2212z{sub|0}){sup|2}\u27E9/2Dt', { size: 9, fill: '#333', rot: Math.PI / 2 }),
    label(462, 222, 't', { size: 10, fill: '#333', italic: true }),
    label(462, 412, '|z{sub|0}|', { size: 12, fill: '#444' }),
    label(343, 182, 'E', { size: 14 }),
    whiteBox(336, 358, 14, 16),
    label(343, 366, 'F', { size: 14 }),
    label(428, 122, '10[w \u2212 |z{sub|0}|]{sup|2}', { size: 10, fill: '#888' }),
    label(366, 164, '100 t{sub|r}', { size: 9, fill: '#666', rot: Math.PI / 2 })
];
var cbLeft = [[50, -4, '#053061'], [90, -3, '#5a9fcc'], [130, -2, '#e2d8d4'], [170, -1, '#e5836a'], [210, 0, '#67001f']];
cbLeft.forEach(function (c) { graphics.push(label(c[0], 30, pow10(c[1]), { size: 13, weight: 'bold', fill: c[2] })); });
var cbRight = [[333, '0.5', '#40004b'], [383, '0.4', '#9970ab'], [436, '0.3', '#cdb5da'], [488, '0.2', '#bde3b6'], [539, '0.1', '#5aae61'], [590, '0.0', '#00441b']];
cbRight.forEach(function (c) { graphics.push(label(c[0], 33, c[1], { size: 13, weight: 'bold', fill: c[2] })); });

myChart.setOption({
    animation: false,
    backgroundColor: '#fff',
    textStyle: { fontFamily: FONT },
    grid: grids,
    xAxis: xAxes,
    yAxis: yAxes,
    series: series,
    graphic: graphics
});
</script>
</body>
</html>
